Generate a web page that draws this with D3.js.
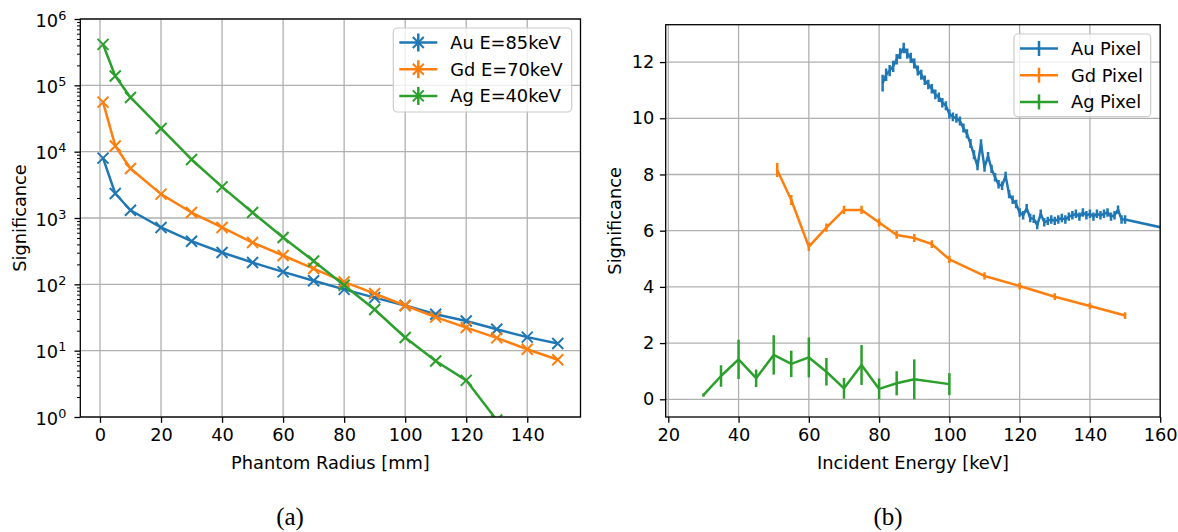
<!DOCTYPE html>
<html>
<head>
<meta charset="utf-8">
<script src="https://cdn.jsdelivr.net/npm/d3@7"></script>
<style>
  body { margin: 0; background: #fff; }
  text { font-family: "DejaVu Sans", sans-serif; }
</style>
</head>
<body>
<svg id="chart" width="1178" height="532"></svg>
<script>
// ---- panel (a): significance vs phantom radius ----
const radius = [1, 5, 10, 20, 30, 40, 50, 60, 70, 80, 90, 100, 110, 120, 130, 140, 150];
const auRadius = [8000, 2340, 1310, 720, 447, 302, 213, 154, 113, 84, 63, 48, 35.5, 28, 21, 16, 12.8];
const gdRadius = [55800, 12200, 5580, 2290, 1210, 720, 427, 272, 173, 109, 72.6, 48, 32, 22.3, 15.6, 10.5, 7.3];
const agRadius = [414000, 138000, 65700, 22400, 7620, 2950, 1210, 508, 225, 97, 41.7, 15.8, 7.0, 3.57, 0.9, null, null];
const radiusTicks = [0, 20, 40, 60, 80, 100, 120, 140];
const logTicks = [1, 10, 100, 1000, 10000, 100000, 1000000];
const logTickExp = ["0", "1", "2", "3", "4", "5", "6"];
const legendA = ["Au E=85keV", "Gd E=70keV", "Ag E=40keV"];

// ---- panel (b): significance vs incident energy ----
const auEnergy = [81, 82, 83, 84, 85, 86, 87, 88, 89, 90, 91, 92, 93, 94, 95, 96, 97, 98, 99, 100,
  101, 102, 103, 104, 105, 106, 107, 108, 109, 110, 111, 112, 113, 114, 115, 116, 117, 118, 119, 120,
  121, 122, 123, 124, 125, 126, 127, 128, 129, 130, 131, 132, 133, 134, 135, 136, 137, 138, 139, 140,
  141, 142, 143, 144, 145, 146, 147, 148, 149, 150, 170];
const auPixel = [11.25, 11.55, 11.7, 11.85, 12.1, 12.3, 12.5, 12.3, 12.15, 11.95, 11.7, 11.55, 11.35, 11.2, 11.05, 10.85, 10.75, 10.55, 10.45, 10.15,
  10.05, 10.0, 9.9, 9.65, 9.45, 9.1, 8.7, 8.3, 9.1, 8.25, 8.65, 8.2, 7.9, 7.65, 7.6, 7.95, 7.3, 7.1, 6.95, 6.65,
  6.55, 6.8, 6.45, 6.42, 6.2, 6.6, 6.3, 6.35, 6.4, 6.35, 6.4, 6.45, 6.4, 6.5, 6.55, 6.6, 6.5, 6.65, 6.55, 6.6,
  6.5, 6.6, 6.55, 6.6, 6.65, 6.5, 6.55, 6.75, 6.4, 6.4, 5.85];
const auPixelErr = [0.3, 0.22, 0.2, 0.2, 0.19, 0.19, 0.19, 0.18, 0.18, 0.18, 0.18, 0.18, 0.17, 0.17, 0.17, 0.17, 0.17, 0.17, 0.16, 0.16,
  0.16, 0.16, 0.16, 0.16, 0.16, 0.16, 0.16, 0.15, 0.15, 0.15, 0.15, 0.15, 0.15, 0.15, 0.15, 0.15, 0.15, 0.15, 0.15, 0.15,
  0.15, 0.15, 0.15, 0.15, 0.15, 0.15, 0.15, 0.15, 0.15, 0.15, 0.15, 0.15, 0.15, 0.15, 0.15, 0.15, 0.15, 0.15, 0.15, 0.15,
  0.15, 0.15, 0.15, 0.15, 0.15, 0.15, 0.15, 0.15, 0.15, 0.15, 0.15];
const gdEnergy = [51, 55, 60, 65, 70, 75, 80, 85, 90, 95, 100, 110, 120, 130, 140, 150];
const gdPixel = [8.16, 7.09, 5.43, 6.11, 6.74, 6.74, 6.29, 5.85, 5.74, 5.52, 4.98, 4.39, 4.03, 3.65, 3.32, 2.98];
const gdPixelErr = [0.25, 0.18, 0.15, 0.15, 0.15, 0.15, 0.14, 0.14, 0.14, 0.14, 0.13, 0.13, 0.12, 0.12, 0.12, 0.12];
const agEnergy = [30, 35, 40, 45, 50, 55, 60, 65, 70, 75, 80, 85, 90, 100];
const agPixel = [0.15, 0.83, 1.42, 0.75, 1.58, 1.26, 1.49, 0.98, 0.39, 1.22, 0.37, 0.57, 0.71, 0.54];
const agPixelErr = [0.06, 0.38, 0.7, 0.31, 0.7, 0.47, 0.71, 0.49, 0.37, 0.71, 0.37, 0.43, 0.71, 0.39];
const energyTicks = [20, 40, 60, 80, 100, 120, 140, 160];
const sigTicks = [0, 2, 4, 6, 8, 10, 12];
const legendB = ["Au Pixel", "Gd Pixel", "Ag Pixel"];

const colors = ["#1f77b4", "#ff7f0e", "#2ca02c"];
const FS = 17.8;
const LW = 2.5;
const gridColor = "#b0b0b0";

const svg = d3.select("#chart");
const defs = svg.append("defs");

function frame(box, id) {
  defs.append("clipPath").attr("id", id)
    .append("rect")
    .attr("x", box.left).attr("y", box.top)
    .attr("width", box.right - box.left).attr("height", box.bottom - box.top);
  return svg.append("g");
}

function spines(g, box) {
  g.append("rect")
    .attr("x", box.left).attr("y", box.top)
    .attr("width", box.right - box.left).attr("height", box.bottom - box.top)
    .attr("fill", "none").attr("stroke", "#000").attr("stroke-width", 1.3);
}

function styleAxis(sel) {
  sel.select(".domain").remove();
  sel.selectAll(".tick line").attr("stroke", "#000").attr("stroke-width", 1.3);
  sel.selectAll(".tick text")
    .attr("fill", "#000")
    .style("font-size", FS + "px")
    .style("font-family", "DejaVu Sans, sans-serif");
}

function legend(g, x, y, w, h, labels, withMarker) {
  const lg = g.append("g");
  lg.append("rect")
    .attr("x", x).attr("y", y).attr("width", w).attr("height", h)
    .attr("rx", 4).attr("ry", 4)
    .attr("fill", "#fff").attr("fill-opacity", 0.8)
    .attr("stroke", "#cccccc").attr("stroke-width", 1.2);
  labels.forEach((lab, i) => {
    const cy = y + 14.5 + i * 26.7;
    const hx = x + 6;
    lg.append("line").attr("x1", hx).attr("x2", hx + 38).attr("y1", cy).attr("y2", cy)
      .attr("stroke", colors[i]).attr("stroke-width", LW);
    const half = withMarker ? 9 : 7.5;
    lg.append("line").attr("x1", hx + 19).attr("x2", hx + 19).attr("y1", cy - half).attr("y2", cy + half)
      .attr("stroke", colors[i]).attr("stroke-width", LW);
    if (withMarker) {
      lg.append("path")
        .attr("d", `M${hx + 13.5},${cy - 5.5}L${hx + 24.5},${cy + 5.5}M${hx + 13.5},${cy + 5.5}L${hx + 24.5},${cy - 5.5}`)
        .attr("stroke", colors[i]).attr("stroke-width", 2).attr("fill", "none");
    }
    lg.append("text").attr("x", hx + 51).attr("y", cy + 6.5)
      .style("font-size", FS + "px").text(lab);
  });
}

// ================= panel (a) =================
const A = { left: 80.3, right: 580.5, top: 19, bottom: 417 };
const xa = d3.scaleLinear().domain([-6.45, 157.45]).range([A.left, A.right]);
const ya = d3.scaleLog().domain([1, 1e6]).range([A.bottom, A.top]);
const ga = frame(A, "clipA");

// grid
ga.append("g").selectAll("line").data(radiusTicks).join("line")
  .attr("x1", d => xa(d)).attr("x2", d => xa(d)).attr("y1", A.top).attr("y2", A.bottom)
  .attr("stroke", gridColor).attr("stroke-width", 1.3);
ga.append("g").selectAll("line").data(logTicks).join("line")
  .attr("x1", A.left).attr("x2", A.right).attr("y1", d => ya(d)).attr("y2", d => ya(d))
  .attr("stroke", gridColor).attr("stroke-width", 1.3);

// axes
const axA = ga.append("g").attr("transform", `translate(0,${A.bottom})`)
  .call(d3.axisBottom(xa).tickValues(radiusTicks).tickSize(5.8).tickPadding(5.5).tickFormat(d3.format("d")));
styleAxis(axA);

const minorLog = [];
for (let e = 0; e < 6; e++) for (let k = 2; k <= 9; k++) minorLog.push(k * Math.pow(10, e));
const ayMinor = ga.append("g").attr("transform", `translate(${A.left},0)`)
  .call(d3.axisLeft(ya).tickValues(minorLog).tickSize(3.3).tickFormat(""));
styleAxis(ayMinor);
ayMinor.selectAll(".tick line").attr("stroke-width", 1);

const ayA = ga.append("g").attr("transform", `translate(${A.left},0)`)
  .call(d3.axisLeft(ya).tickValues(logTicks).tickSize(5.8).tickFormat(""));
styleAxis(ayA);
ayA.selectAll(".tick text").remove();
ayA.selectAll(".tick").each(function (d, i) {
  const t = d3.select(this).append("text")
    .attr("x", -14).attr("y", 7)
    .attr("text-anchor", "end").attr("fill", "#000")
    .style("font-size", FS + "px");
  t.append("tspan").text("10");
  t.append("tspan").attr("dy", -7).style("font-size", (FS * 0.72) + "px").text(logTickExp[i]);
});

// series
const lineA = d3.line().x(d => xa(d[0])).y(d => ya(d[1]));
const seriesA = [auRadius, gdRadius, agRadius];
const plotA = ga.append("g").attr("clip-path", "url(#clipA)");
seriesA.forEach((vals, si) => {
  const pts = radius.map((r, i) => [r, vals[i]]).filter(p => p[1] != null);
  plotA.append("path").datum(pts)
    .attr("d", lineA).attr("fill", "none")
    .attr("stroke", colors[si]).attr("stroke-width", LW).attr("stroke-linejoin", "round");
  plotA.append("g").selectAll("path").data(pts).join("path")
    .attr("transform", p => `translate(${xa(p[0])},${ya(p[1])})`)
    .attr("d", "M-5.5,-5.5L5.5,5.5M-5.5,5.5L5.5,-5.5")
    .attr("stroke", colors[si]).attr("stroke-width", 2).attr("fill", "none");
});

spines(ga, A);

ga.append("text").attr("x", (A.left + A.right) / 2).attr("y", 469)
  .attr("text-anchor", "middle").style("font-size", FS + "px").text("Phantom Radius [mm]");
ga.append("text").attr("transform", `translate(26,${(A.top + A.bottom) / 2}) rotate(-90)`)
  .attr("text-anchor", "middle").style("font-size", FS + "px").text("Significance");

legend(ga, 393.3, 28, 178.4, 84, legendA, true);

// ================= panel (b) =================
const B = { left: 665.7, right: 1160.2, top: 24.7, bottom: 417 };
const xb = d3.scaleLinear().domain([19.26, 160]).range([B.left, B.right]);
const yb = d3.scaleLinear().domain([-0.63, 13.33]).range([B.bottom, B.top]);
const gb = frame(B, "clipB");

gb.append("g").selectAll("line").data(energyTicks).join("line")
  .attr("x1", d => xb(d)).attr("x2", d => xb(d)).attr("y1", B.top).attr("y2", B.bottom)
  .attr("stroke", gridColor).attr("stroke-width", 1.3);
gb.append("g").selectAll("line").data(sigTicks).join("line")
  .attr("x1", B.left).attr("x2", B.right).attr("y1", d => yb(d)).attr("y2", d => yb(d))
  .attr("stroke", gridColor).attr("stroke-width", 1.3);

const axB = gb.append("g").attr("transform", `translate(0,${B.bottom})`)
  .call(d3.axisBottom(xb).tickValues(energyTicks).tickSize(5.8).tickPadding(5.5).tickFormat(d3.format("d")));
styleAxis(axB);
const ayB = gb.append("g").attr("transform", `translate(${B.left},0)`)
  .call(d3.axisLeft(yb).tickValues(sigTicks).tickSize(5.8).tickPadding(5.5).tickFormat(d3.format("d")));
styleAxis(ayB);

const plotB = gb.append("g").attr("clip-path", "url(#clipB)");
const lineB = d3.line().x(d => xb(d[0])).y(d => yb(d[1]));
const seriesB = [
  [auEnergy, auPixel, auPixelErr],
  [gdEnergy, gdPixel, gdPixelErr],
  [agEnergy, agPixel, agPixelErr]
];
seriesB.forEach(([xs, ys, es], si) => {
  const pts = xs.map((x, i) => [x, ys[i], es[i]]);
  plotB.append("path").datum(pts)
    .attr("d", lineB).attr("fill", "none")
    .attr("stroke", colors[si]).attr("stroke-width", LW).attr("stroke-linejoin", "round");
  plotB.append("g").selectAll("line").data(pts).join("line")
    .attr("x1", p => xb(p[0])).attr("x2", p => xb(p[0]))
    .attr("y1", p => yb(p[1] - p[2])).attr("y2", p => yb(p[1] + p[2]))
    .attr("stroke", colors[si]).attr("stroke-width", LW);
});

spines(gb, B);

gb.append("text").attr("x", (B.left + B.right) / 2).attr("y", 469)
  .attr("text-anchor", "middle").style("font-size", FS + "px").text("Incident Energy [keV]");
gb.append("text").attr("transform", `translate(621,${(B.top + B.bottom) / 2}) rotate(-90)`)
  .attr("text-anchor", "middle").style("font-size", FS + "px").text("Significance");

legend(gb, 1014, 34, 136.7, 82.7, legendB, false);

// captions
svg.append("text").attr("x", 290).attr("y", 525).attr("text-anchor", "middle")
  .style("font-family", "Liberation Serif, serif").style("font-size", "25px").text("(a)");
svg.append("text").attr("x", 888).attr("y", 525).attr("text-anchor", "middle")
  .style("font-family", "Liberation Serif, serif").style("font-size", "25px").text("(b)");
</script>
</body>
</html>
